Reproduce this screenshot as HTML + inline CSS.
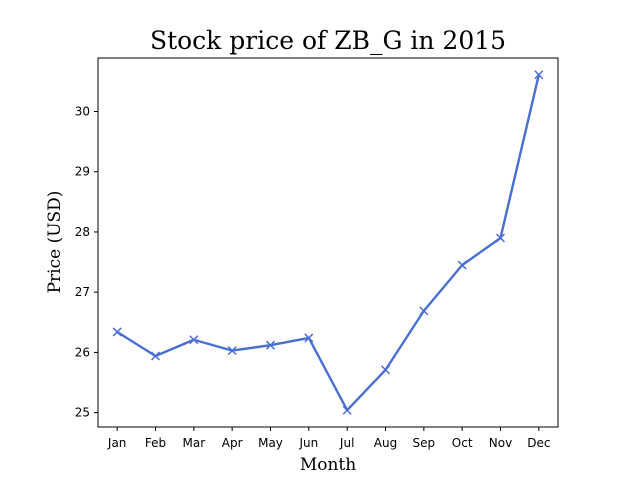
<!DOCTYPE html>
<html><head><meta charset="utf-8"><style>
body{margin:0;background:#fff;}
svg{display:block;}
</style></head><body>
<svg id="chart" width="640" height="480" xmlns="http://www.w3.org/2000/svg">
<rect x="0" y="0" width="640" height="480" fill="#fff"/>
<text x="328" y="49" text-anchor="middle" font-family="DejaVu Serif, Liberation Serif, serif" font-size="25">Stock price of ZB_G in 2015</text>
<g id="ticks"></g>
<g id="series"></g>
<rect x="98" y="58" width="460" height="369" fill="none" stroke="#000" stroke-width="1"/>
<text x="328" y="470" text-anchor="middle" font-family="DejaVu Serif, Liberation Serif, serif" font-size="17">Month</text>
<text transform="translate(60,242) rotate(-90)" text-anchor="middle" font-family="DejaVu Serif, Liberation Serif, serif" font-size="17">Price (USD)</text>
</svg>
<script>
const months = ["Jan","Feb","Mar","Apr","May","Jun","Jul","Aug","Sep","Oct","Nov","Dec"];
const prices = [26.34,25.94,26.21,26.03,26.12,26.24,25.04,25.71,26.69,27.45,27.90,30.61];
const yTicks = [25,26,27,28,29,30];
const NS="http://www.w3.org/2000/svg";
const L=98,R=558,T=58,B=427;
const n=months.length;
const xs=i=>L+(R-L)*(i+0.5)/n;
const mn=Math.min(...prices),mx=Math.max(...prices),sp=mx-mn;
const y0=mn-0.05*sp,y1=mx+0.05*sp;
const ys=v=>B-(v-y0)/(y1-y0)*(B-T);
const tg=document.getElementById('ticks');
function mk(tag,attrs,parent){const e=document.createElementNS(NS,tag);for(const k in attrs)e.setAttribute(k,attrs[k]);parent.appendChild(e);return e;}
months.forEach((m,i)=>{
  const x=xs(i);
  const t=mk('line',{x1:x,x2:x,y1:B,y2:B+4,stroke:'#000'},tg);
  
  
  const lb=mk('text',{x:x,y:B+20,'text-anchor':'middle','font-family':'DejaVu Sans, Liberation Sans, sans-serif','font-size':'12'},tg);
  lb.textContent=m;
  
  
});
yTicks.forEach(v=>{
  const y=ys(v);
  const t=mk('line',{x1:L-4,x2:L,y1:y,y2:y,stroke:'#000'},tg);
  
  
  const lb=mk('text',{x:L-8,y:y+4,'text-anchor':'end','font-family':'DejaVu Sans, Liberation Sans, sans-serif','font-size':'12'},tg);
  lb.textContent=v;
  
  
});
const sg=document.getElementById('series');
const pts=prices.map((p,i)=>xs(i)+','+ys(p)).join(' ');
const line=mk('polyline',{points:pts,fill:'none',stroke:'#4a6fd4','stroke-width':'2.4','stroke-linejoin':'round'},sg);


prices.forEach((p,i)=>{
  const x=xs(i),y=ys(p),s=4;
  const g=mk('path',{d:`M${x-s},${y-s}L${x+s},${y+s}M${x-s},${y+s}L${x+s},${y-s}`,stroke:'#4a6fd4','stroke-width':'1.5'},sg);
  
  
});
</script>
</body></html>
